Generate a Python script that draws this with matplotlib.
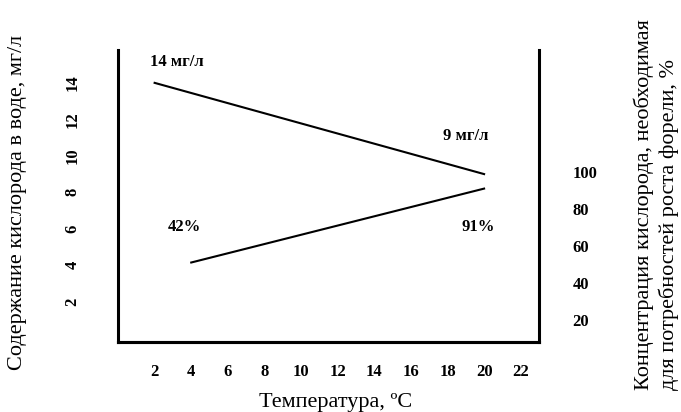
import matplotlib
matplotlib.use("Agg")
import matplotlib.pyplot as plt

plt.rcParams['font.family'] = ['Liberation Serif', 'DejaVu Serif']

# data
temp_o2 = [2, 20]
o2_content = [14, 9]          # мг/л, left axis
temp_need = [4, 20]
o2_need = [51, 91]            # %, right axis
x_ticks = [2, 4, 6, 8, 10, 12, 14, 16, 18, 20, 22]
left_ticks = [2, 4, 6, 8, 10, 12, 14]
right_ticks = [20, 40, 60, 80, 100]
labels = ["14 мг/л", "42%", "9 мг/л", "91%"]
label_x = [3.23, 3.64, 19.0, 19.69]
label_y = [15.15, 6.1, 11.1, 6.1]

fig = plt.figure(figsize=(6.81, 4.12), dpi=100)
ax = fig.add_axes([0.1733, 0.17, 0.6182, 0.7086])
ax2 = ax.twinx()

ax.plot(temp_o2, o2_content, color='black', lw=1.5)
ax2.plot(temp_need, o2_need, color='black', lw=1.5)

ax.set_xlim(0, 23)
ax.set_ylim(-0.2, 15.8)
ax2.set_ylim(8, 166)

for a in (ax, ax2):
    a.spines['top'].set_visible(False)
    for s in ('left', 'right', 'bottom'):
        a.spines[s].set_linewidth(2.2)
ax.spines['right'].set_visible(False)
ax2.spines['left'].set_visible(False)

ax.set_xticks(x_ticks)
ax.set_xticklabels([str(t) for t in x_ticks], fontweight='bold', fontsize=12)
ax.set_yticks(left_ticks)
ax.set_yticklabels([str(t) for t in left_ticks], fontweight='bold', fontsize=12,
                   rotation=90, va='center')
ax2.set_yticks(right_ticks)
ax2.set_yticklabels([str(t) for t in right_ticks], fontweight='bold', fontsize=12)
ax.tick_params(axis='x', length=0, pad=16)
ax.tick_params(axis='y', length=0, pad=27)
ax2.tick_params(axis='y', length=0, pad=24)

for t, x, y in zip(labels, label_x, label_y):
    ax.text(x, y, t, ha='center', va='center', fontsize=12, fontweight='bold')

fig.text(336 / 681, 1 - 403 / 412, "Температура, ºC", ha='center', va='center', fontsize=16)
fig.text(18 / 681, 1 - 370 / 412, "Содержание кислорода в воде, мг/л", rotation=90,
         ha='center', va='bottom', fontsize=16)
fig.text(656 / 681, 1 - 390 / 412,
         "Концентрация кислорода, необходимая\nдля потребностей роста форели, %",
         rotation=90, ha='center', va='bottom', multialignment='left', fontsize=16,
         linespacing=1.3)

fig.savefig("out.png", dpi=100)
